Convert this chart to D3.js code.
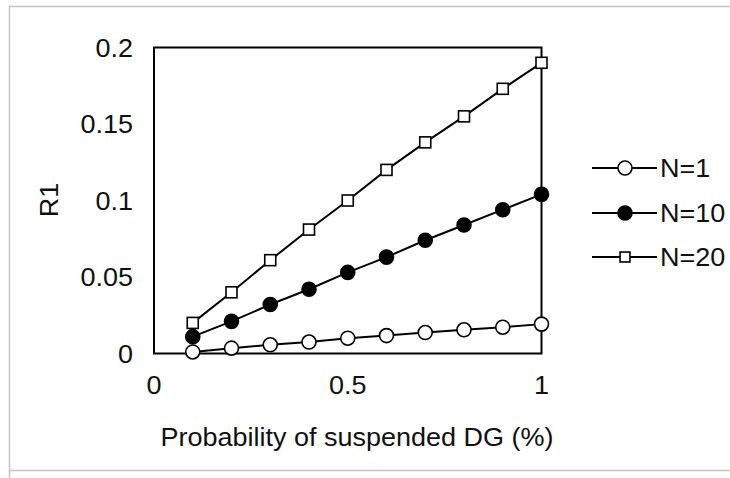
<!DOCTYPE html>
<html><head><meta charset="utf-8">
<script src="https://cdn.jsdelivr.net/npm/d3@7"></script>
<style>body{margin:0;background:#fff}svg{display:block}text{font-family:"Liberation Sans",Arial,sans-serif;fill:#111}</style>
</head><body><svg id="c" width="730" height="478"></svg>
<script>
const xValues = [0.1,0.2,0.3,0.4,0.5,0.6,0.7,0.8,0.9,1.0];
const seriesN1  = [0.001,0.0035,0.0057,0.0075,0.0100,0.0117,0.0137,0.0155,0.0172,0.0192];
const seriesN10 = [0.011,0.021,0.032,0.042,0.053,0.063,0.074,0.084,0.094,0.104];
const seriesN20 = [0.020,0.040,0.061,0.081,0.100,0.120,0.138,0.155,0.173,0.190];
const seriesNames = ["N=1","N=10","N=20"];
const xTicks = [0,0.5,1];
const yTicks = [0,0.05,0.1,0.15,0.2];
const xTitle = "Probability of suspended DG (%)";
const yTitle = "R1";

const FS = 25, SX = 1.08;
const svg = d3.select("#c");
svg.append("path").attr("d","M9.5,478 L9.5,6.5 L730,6.5 M9.5,470.5 L730,470.5")
  .attr("fill","none").attr("stroke","#c4c4c4").attr("stroke-width",1.5);

const L=154, R=541.5, T=47.5, B=353.5;
const x = d3.scaleLinear().domain([0,1]).range([L,R]);
const y = d3.scaleLinear().domain([0,0.2]).range([B,T]);

svg.append("rect").attr("x",L).attr("y",T).attr("width",R-L).attr("height",B-T)
  .attr("fill","none").attr("stroke","#000").attr("stroke-width",2);

function label(px,py,str,anchor,rot){
  return svg.append("text")
    .attr("transform",`translate(${px},${py})`+(rot?` rotate(${rot})`:"")+` scale(${SX},1)`)
    .attr("text-anchor",anchor).style("font-size",FS+"px").text(str);
}

// y axis (scale-driven tick positions)
const yAxis = svg.append("g").attr("transform",`translate(${L},0)`)
  .call(d3.axisLeft(y).tickValues(yTicks).tickSize(0).tickFormat(""));
yAxis.select(".domain").remove();
yTicks.forEach(t=>label(L-21, y(t)+9, String(+t.toFixed(2)), "end"));

const xAxis = svg.append("g").attr("transform",`translate(0,${B})`)
  .call(d3.axisBottom(x).tickValues(xTicks).tickSize(0).tickFormat(""));
xAxis.select(".domain").remove();
xTicks.forEach(t=>label(x(t), 394, String(t), "middle"));

label(357, 446, xTitle, "middle");
label(58, 200, yTitle, "middle", -90);

const data = [seriesN1, seriesN10, seriesN20];
const styles = [
  {shape:"circle", fill:"#fff", r:7},
  {shape:"circle", fill:"#000", r:7},
  {shape:"square", fill:"#fff", s:11}
];
const line = d3.line().x((d,i)=>x(xValues[i])).y(d=>y(d));

function marker(g, st, cx, cy, scale){
  if(st.shape==="circle"){
    g.append("circle").attr("cx",cx).attr("cy",cy).attr("r",st.r*scale)
      .attr("fill",st.fill).attr("stroke","#000").attr("stroke-width",1.6);
  } else {
    const s=st.s*scale;
    g.append("rect").attr("x",cx-s/2).attr("y",cy-s/2).attr("width",s).attr("height",s)
      .attr("fill",st.fill).attr("stroke","#000").attr("stroke-width",1.6);
  }
}

data.forEach((vals,k)=>{
  const g = svg.append("g");
  g.append("path").datum(vals).attr("d",line).attr("fill","none").attr("stroke","#000").attr("stroke-width",2);
  vals.forEach((v,i)=>marker(g, styles[k], x(xValues[i]), y(v), 1));
});

const legY = [168, 213, 257];
seriesNames.forEach((name,k)=>{
  const g = svg.append("g");
  g.append("line").attr("x1",592).attr("x2",657).attr("y1",legY[k]).attr("y2",legY[k]).attr("stroke","#000").attr("stroke-width",1.8);
  marker(g, styles[k], 625, legY[k], k===2?0.9:1);
  label(660, legY[k]+9, name, "start");
});
</script></body></html>
